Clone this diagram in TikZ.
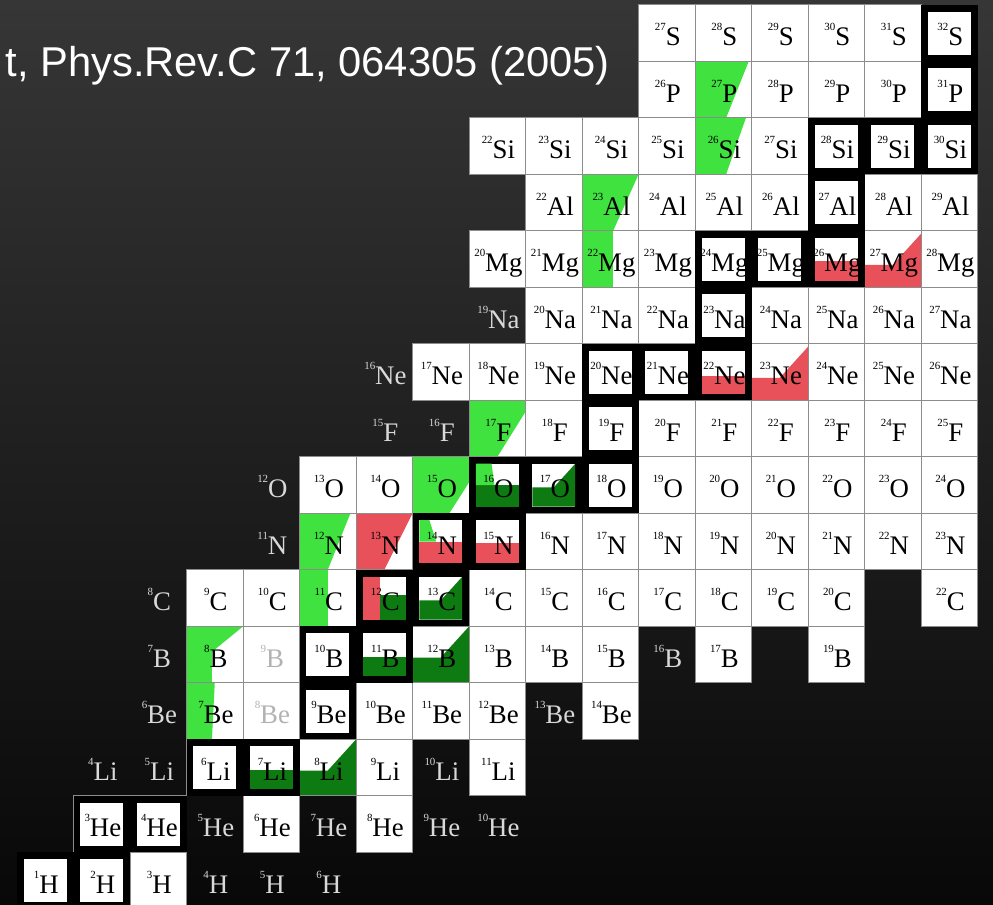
\documentclass[tikz,border=0pt]{standalone}
\usepackage{fontspec}
\usepackage{xcolor}
\usepackage{tikz}
\newfontfamily\nucfont{Liberation Serif}
\newfontfamily\citefont{Liberation Sans}
\definecolor{bgtop}{HTML}{363636}
\definecolor{bgbottom}{HTML}{080808}
\definecolor{ngreen}{HTML}{3FE23F}
\definecolor{ndkgreen}{HTML}{0E7A12}
\definecolor{nred}{HTML}{E8505A}
\definecolor{ngrid}{HTML}{8C8C8C}

\newcommand{\iso}[2]{\raisebox{0.55em}{\fontsize{5.5}{6}\selectfont #1}#2}

% cells: N/Z/A/symbol
\def\whitecells{2/1/3/H, 4/2/6/He, 6/2/8/He, 5/3/8/Li, 6/3/9/Li, 8/3/11/Li,
  3/4/7/Be, 6/4/10/Be, 7/4/11/Be, 8/4/12/Be, 10/4/14/Be,
  3/5/8/B, 7/5/12/B, 8/5/13/B, 9/5/14/B, 10/5/15/B, 12/5/17/B, 14/5/19/B,
  3/6/9/C, 4/6/10/C, 5/6/11/C, 8/6/14/C, 9/6/15/C, 10/6/16/C, 11/6/17/C, 12/6/18/C, 13/6/19/C, 14/6/20/C, 16/6/22/C,
  5/7/12/N, 6/7/13/N, 9/7/16/N, 10/7/17/N, 11/7/18/N, 12/7/19/N, 13/7/20/N, 14/7/21/N, 15/7/22/N, 16/7/23/N,
  5/8/13/O, 6/8/14/O, 7/8/15/O, 11/8/19/O, 12/8/20/O, 13/8/21/O, 14/8/22/O, 15/8/23/O, 16/8/24/O,
  8/9/17/F, 9/9/18/F, 11/9/20/F, 12/9/21/F, 13/9/22/F, 14/9/23/F, 15/9/24/F, 16/9/25/F,
  7/10/17/Ne, 8/10/18/Ne, 9/10/19/Ne, 13/10/23/Ne, 14/10/24/Ne, 15/10/25/Ne, 16/10/26/Ne,
  9/11/20/Na, 10/11/21/Na, 11/11/22/Na, 13/11/24/Na, 14/11/25/Na, 15/11/26/Na, 16/11/27/Na,
  8/12/20/Mg, 9/12/21/Mg, 10/12/22/Mg, 11/12/23/Mg, 15/12/27/Mg, 16/12/28/Mg,
  9/13/22/Al, 10/13/23/Al, 11/13/24/Al, 12/13/25/Al, 13/13/26/Al, 15/13/28/Al, 16/13/29/Al,
  8/14/22/Si, 9/14/23/Si, 10/14/24/Si, 11/14/25/Si, 12/14/26/Si, 13/14/27/Si,
  11/15/26/P, 12/15/27/P, 13/15/28/P, 14/15/29/P, 15/15/30/P,
  11/16/27/S, 12/16/28/S, 13/16/29/S, 14/16/30/S, 15/16/31/S}
\def\faintcells{4/4/8/Be, 4/5/9/B}
\def\stablecells{0/1/1/H, 1/1/2/H, 1/2/3/He, 2/2/4/He, 3/3/6/Li, 4/3/7/Li, 5/4/9/Be,
  5/5/10/B, 6/5/11/B, 6/6/12/C, 7/6/13/C, 7/7/14/N, 8/7/15/N, 8/8/16/O, 9/8/17/O, 10/8/18/O,
  10/9/19/F, 10/10/20/Ne, 11/10/21/Ne, 12/10/22/Ne, 12/11/23/Na, 12/12/24/Mg, 13/12/25/Mg,
  14/12/26/Mg, 14/13/27/Al, 14/14/28/Si, 15/14/29/Si, 16/14/30/Si, 16/15/31/P, 16/16/32/S}
\def\unboundcells{3/1/4/H, 4/1/5/H, 5/1/6/H, 3/2/5/He, 5/2/7/He, 7/2/9/He, 8/2/10/He,
  1/3/4/Li, 2/3/5/Li, 7/3/10/Li, 2/4/6/Be, 9/4/13/Be, 2/5/7/B, 11/5/16/B, 2/6/8/C,
  4/7/11/N, 4/8/12/O, 6/9/15/F, 7/9/16/F, 6/10/16/Ne, 8/11/19/Na}

\tikzset{
  cellline/.style={draw=ngrid, line width=0.5pt},
  nuclbl/.style={font=\nucfont\fontsize{13.5}{14}\selectfont, text=black, inner sep=0pt, anchor=base},
  unboundlbl/.style={nuclbl, text=white!85!black},
  faintlbl/.style={nuclbl, text=black!30},
  citetext/.style={font=\citefont\fontsize{21}{21}\selectfont, text=white, anchor=base east, inner sep=0pt}
}

\begin{document}
\begin{tikzpicture}[x=1cm, y=1cm]
\useasboundingbox (-0.301,0.071) rectangle (17.274,16.088);
\shade[top color=bgtop, bottom color=bgbottom] (-0.301,0.071) rectangle (17.274,16.088);
\node[citetext] (cite) at (10.5,14.726) {t, Phys.Rev.C 71, 064305 (2005)};

% white cells
\foreach \cN/\cZ/\cA/\cX in \whitecells {\fill[white] (\cN,\cZ-1) rectangle ++(1,1);}
\foreach \cN/\cZ/\cA/\cX in \faintcells {\fill[white] (\cN,\cZ-1) rectangle ++(1,1);}

% bright green band
\fill[ngreen] (12,14) -- (12.55,14) -- (12.95,15) -- (12,15) -- cycle;
\fill[ngreen] (12,13) -- (12.55,13) -- (12.9,14) -- (12,14) -- cycle;
\fill[ngreen] (10,12) -- (10.55,12) -- (11,13) -- (10,13) -- cycle;
\fill[ngreen] (10,11) -- (10.55,11) -- (10.55,12) -- (10,12) -- cycle;
\fill[ngreen] (8,8) -- (8.5,8) -- (9,8.8) -- (9,9) -- (8,9) -- cycle;
\fill[ngreen] (7,7) -- (7.65,7) -- (8,7.55) -- (8,8) -- (7,8) -- cycle;
\fill[ngreen] (5,6) -- (5.5,6) -- (5.9,7) -- (5,7) -- cycle;
\fill[ngreen] (5,5) -- (5.5,5) -- (5.5,6) -- (5,6) -- cycle;
\fill[ngreen] (3,4) -- (3.45,4) -- (3.45,4.55) -- (4,5) -- (3,5) -- cycle;
\fill[ngreen] (3,3) -- (3.45,3) -- (3.5,4) -- (3,4) -- cycle;
% red and dark green
\fill[nred] (6,6) -- (6.5,6) -- (7,7) -- (6,7) -- cycle;
\fill[nred] (13,9) -- (14,9) -- (14,9.95) -- (13.5,9.4) -- (13,9.4) -- cycle;
\fill[nred] (15,11) -- (16,11) -- (16,11.95) -- (15.5,11.4) -- (15,11.4) -- cycle;
\fill[ndkgreen] (5,2) -- (6,2) -- (6,3) -- (5.5,2.45) -- (5,2.45) -- cycle;
\fill[ndkgreen] (7,4) -- (8,4) -- (8,5) -- (7.5,4.45) -- (7,4.45) -- cycle;

\foreach \cN/\cZ/\cA/\cX in \whitecells {\draw[cellline] (\cN,\cZ-1) rectangle ++(1,1);}
\foreach \cN/\cZ/\cA/\cX in \faintcells {\draw[cellline] (\cN,\cZ-1) rectangle ++(1,1);}
\draw[cellline] (0,1) -- (1,1) -- (1,2) -- (3,2) -- (3,3);

% stable nuclei
\foreach \cN/\cZ/\cA/\cX in \stablecells {
  \fill[black] (\cN,\cZ-1) rectangle ++(1,1);
  \fill[white] (\cN+0.12,\cZ-0.88) rectangle ++(0.76,0.76);}
\fill[ndkgreen] (4.12,2.12) rectangle (4.88,2.46);
\fill[ndkgreen] (6.12,4.12) rectangle (6.88,4.46);
\fill[nred] (6.12,5.12) rectangle (6.42,5.88);
\fill[ndkgreen] (6.42,5.12) rectangle (6.88,5.55);
\fill[ndkgreen] (7.12,5.12) -- (7.88,5.12) -- (7.88,5.88) -- (7.5,5.46) -- (7.12,5.46) -- cycle;
\fill[nred] (7.12,6.12) rectangle (7.88,6.5);
\fill[ngreen] (7.12,6.5) -- (7.42,6.5) -- (7.3,6.88) -- (7.12,6.88) -- cycle;
\fill[nred] (8.12,6.12) rectangle (8.88,6.48);
\fill[ndkgreen] (8.12,7.12) rectangle (8.88,7.5);
\fill[ngreen] (8.12,7.5) -- (8.45,7.5) -- (8.4,7.88) -- (8.12,7.88) -- cycle;
\fill[ndkgreen] (9.12,7.12) -- (9.88,7.12) -- (9.88,7.88) -- (9.5,7.46) -- (9.12,7.46) -- cycle;
\fill[nred] (12.12,9.12) rectangle (12.88,9.44);
\fill[nred] (14.12,11.12) rectangle (14.88,11.46);

% labels
\foreach \cN/\cZ/\cA/\cX in \whitecells {\node[nuclbl] (n\cA\cX) at (\cN+0.52,\cZ-0.72) {\iso{\cA}{\cX}};}
\foreach \cN/\cZ/\cA/\cX in \stablecells {\node[nuclbl] (n\cA\cX) at (\cN+0.52,\cZ-0.72) {\iso{\cA}{\cX}};}
\foreach \cN/\cZ/\cA/\cX in \faintcells {\node[faintlbl] (n\cA\cX) at (\cN+0.52,\cZ-0.72) {\iso{\cA}{\cX}};}
\foreach \cN/\cZ/\cA/\cX in \unboundcells {\node[unboundlbl] (n\cA\cX) at (\cN+0.52,\cZ-0.72) {\iso{\cA}{\cX}};}
\end{tikzpicture}
\end{document}
